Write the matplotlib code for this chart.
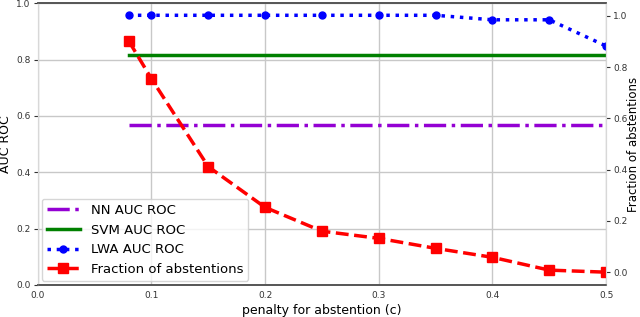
import matplotlib
matplotlib.use("Agg")
import matplotlib.pyplot as plt

c_values = [0.08, 0.1, 0.15, 0.2, 0.25, 0.3, 0.35, 0.4, 0.45, 0.5]
nn_auc = [0.567] * len(c_values)
svm_auc = [0.816] * len(c_values)
lwa_auc = [0.957, 0.957, 0.957, 0.957, 0.957, 0.957, 0.957, 0.941, 0.941, 0.848]
abstentions = [0.903, 0.755, 0.412, 0.253, 0.160, 0.132, 0.093, 0.058, 0.008, 0.0]

left_ticks = [0.0, 0.2, 0.4, 0.6, 0.8, 1.0]
right_ticks = [0.0, 0.2, 0.4, 0.6, 0.8, 1.0]
x_ticks = [0.0, 0.1, 0.2, 0.3, 0.4, 0.5]

fig = plt.figure(figsize=(6.4, 3.17), dpi=100)
ax = fig.add_axes([0.059, 0.101, 0.888, 0.889])
ax2 = ax.twinx()

l1, = ax.plot(c_values, nn_auc, color='darkviolet', linestyle='-.', lw=2.5, label='NN AUC ROC')
l2, = ax.plot(c_values, svm_auc, color='green', linestyle='-', lw=2.5, label='SVM AUC ROC')
l3, = ax.plot(c_values, lwa_auc, color='blue', linestyle=':', lw=2.5, marker='o', ms=5, label='LWA AUC ROC')
l4, = ax2.plot(c_values, abstentions, color='red', linestyle='--', lw=2.5, marker='s', ms=6.5, label='Fraction of abstentions')

ax.set_xlim(0, 0.5)
ax.set_ylim(0, 1.0)
ax2.set_ylim(-0.05, 1.05)
ax.set_xticks(x_ticks)
ax.set_yticks(left_ticks)
ax2.set_yticks(right_ticks)
ax.set_xticklabels([f"{v:.1f}" for v in x_ticks])
ax.set_yticklabels([f"{v:.1f}" for v in left_ticks])
ax2.set_yticklabels([f"{v:.1f}" for v in right_ticks])
ax.grid(True, color='#c8c8c8', lw=1)
ax.set_axisbelow(True)

for a in (ax, ax2):
    a.tick_params(labelsize=6.5, length=3, width=0.8, colors='#333333', pad=2)
    for s in ('top', 'bottom'):
        a.spines[s].set_color('#555555')
        a.spines[s].set_linewidth(1.2)
    for s in ('left', 'right'):
        a.spines[s].set_color('#d8d8d8')
ax.tick_params(axis='x', length=0, pad=4)

ax.set_xlabel('penalty for abstention (c)', fontsize=9, labelpad=3)
ax.set_ylabel('AUC ROC', fontsize=9, labelpad=3)
ax2.set_ylabel('Fraction of abstentions', fontsize=8.5, labelpad=0)

leg = ax2.legend(handles=[l1, l2, l3, l4], loc='lower left', fontsize=9.5, frameon=True,
                 borderaxespad=0.3, handlelength=2.5, labelspacing=0.5)
leg.get_frame().set_edgecolor('#cccccc')

fig.savefig('out.png', dpi=100)
